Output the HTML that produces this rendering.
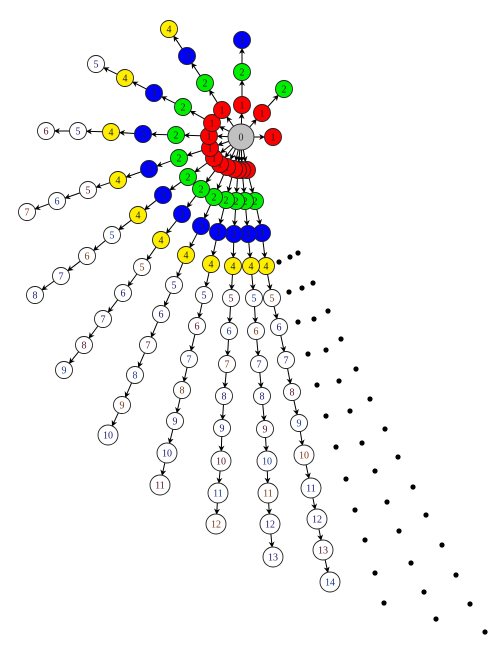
<!DOCTYPE html>
<html><head><meta charset="utf-8"><style>
html,body{margin:0;padding:0;background:#fff;}
svg{display:block;font-family:"Liberation Serif",serif;}
</style></head><body>
<svg id="g" width="503" height="646" viewBox="0 0 503 646">
<defs><marker id="ah" viewBox="0 0 10 10" refX="9" refY="5" markerWidth="6" markerHeight="6" orient="auto"><path d="M0,0 L10,5 L0,10 L3,5 z" fill="#000"/></marker></defs>
</svg>
<script>
const center = [241,137];
const branches = [
 [[273,137]],
 [[262,113],[284,89]],
 [[242,105],[242,72],[242,40]],
 [[222,110],[205,83],[187,56],[169,29]],
 [[212,123],[183,107],[154,93],[125,78],[96,64]],
 [[209,136],[176,135],[143,134],[111,132],[78,131],[46,131]],
 [[210,148],[179,158],[149,169],[118,180],[88,190],[57,201],[27,212]],
 [[214,158],[188,177],[163,195],[138,215],[112,235],[87,256],[61,276],[35,295]],
 [[220,164],[201,189],[182,214],[161,240],[142,267],[123,293],[103,319],[84,345],[64,370]],
 [[227,167],[214,197],[201,226],[186,255],[174,285],[161,314],[148,345],[135,375],[122,405],[108,435]],
 [[234,169],[226,200],[218,232],[211,264],[204,295],[197,326],[189,359],[182,390],[175,421],[167,453],[160,485]],
 [[238,170],[236,201],[234,234],[233,266],[231,298],[229,331],[227,364],[224,396],[222,428],[221,461],[218,493],[216,524]],
 [[242,170],[245,201],[248,234],[251,266],[254,298],[256,331],[259,364],[262,396],[265,429],[267,461],[268,493],[270,524],[273,557]],
 [[247,170],[255,201],[262,233],[266,266],[272,298],[279,327],[286,360],[292,392],[299,423],[304,455],[311,488],[317,519],[323,550],[330,582]]
];
const dotLines = [
 [[279,262],[289,292],[298,322],[308,354],[317,385],[326,416],[336,447],[346,479],[355,510],[365,540],[375,573],[384,603]],
 [[290,257],[302,288],[314,319],[326,350],[339,381],[350,411],[362,443],[375,471],[387,502],[399,531],[411,563],[424,592],[436,619]],
 [[298,253],[313,283],[328,311],[341,339],[356,369],[370,399],[385,429],[398,457],[413,487],[426,515],[442,545],[456,575],[470,604],[485,632]]
];
const fills = ['#c0c0c0','#ff0000','#00ee00','#0000ff','#ffee00'];
const textCols = ['#1a1a6e','#5a1030','#1a3a8a','#7a3a10','#1a1a6e'];
const NS='http://www.w3.org/2000/svg';
const svg=document.getElementById('g');
function rad(d){return d===0?13:(d>=10?10:8.5);}
const edges=svg.appendChild(document.createElementNS(NS,'g'));
const nodes=svg.appendChild(document.createElementNS(NS,'g'));
function mk(tag,at,parent){const e=document.createElementNS(NS,tag);for(const k in at)e.setAttribute(k,at[k]);parent.appendChild(e);return e;}
function node(p,d,bi){
  const g=mk('g',{},nodes);
  
  
  const r=rad(d);
  mk('circle',{cx:p[0],cy:p[1],r:r,fill:d<5?fills[d]:'#fff',stroke:'#222','stroke-width':0.9},g);
  const t=mk('text',{x:p[0],y:p[1]+3.5,'text-anchor':'middle','font-size':d>=10?10:10,fill:d>=5?textCols[(d+bi)%5]:'#222'},g);
  t.textContent=d;
}
function edge(a,b,ra,rb){
  const dx=b[0]-a[0],dy=b[1]-a[1],L=Math.hypot(dx,dy),ux=dx/L,uy=dy/L;
  const l=mk('line',{x1:a[0]+ux*ra,y1:a[1]+uy*ra,x2:b[0]-ux*rb,y2:b[1]-uy*rb,stroke:'#000','stroke-width':1,'marker-end':'url(#ah)'},edges);
  
  
}
branches.slice().reverse().forEach((br,ri)=>{
  const bi=branches.length-1-ri;
  let prev=center,pd=0;
  br.forEach((p,i)=>{edge(prev,p,rad(pd),rad(i+1));prev=p;pd=i+1;});
  br.slice().reverse().forEach((p,j)=>node(p,br.length-j,bi));
});
node(center,0,-1);
dotLines.forEach((ln,li)=>ln.forEach(p=>{
  const c=mk('circle',{cx:p[0],cy:p[1],r:2.6,fill:'#000'},svg);
  
  
}));
</script>
</body></html>
